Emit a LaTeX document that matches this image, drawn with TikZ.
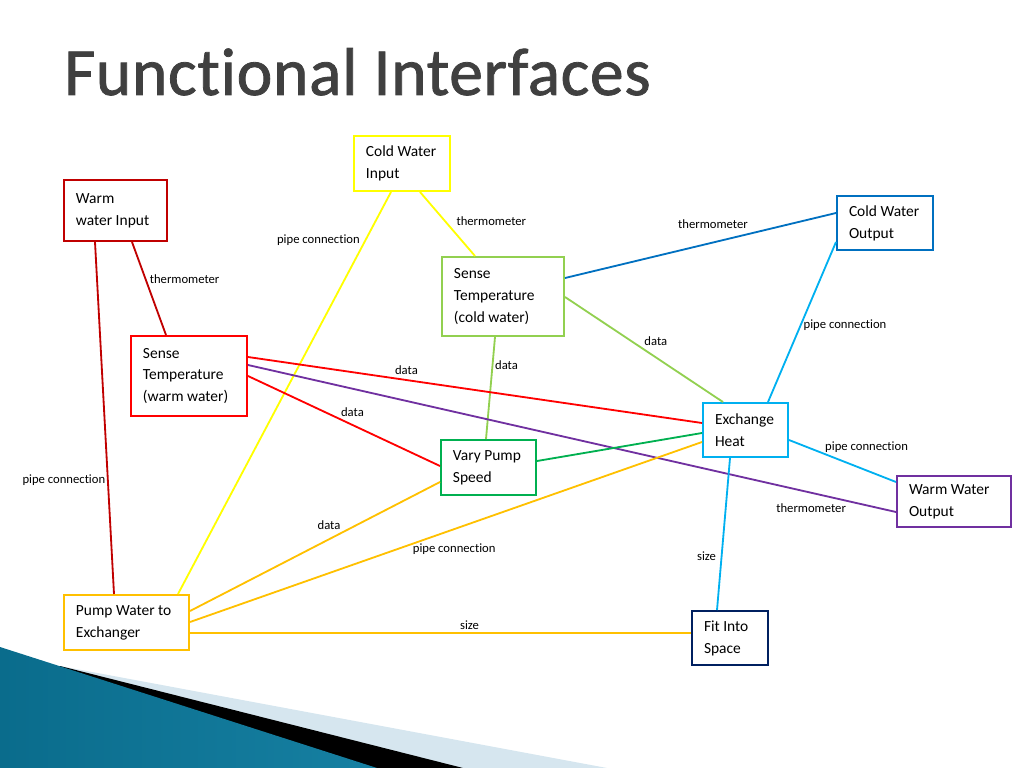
\documentclass[tikz,border=0pt]{standalone}
\usepackage{fontspec}
\setmainfont{Carlito}[Ligatures=NoCommon]
\usetikzlibrary{positioning,calc}
\definecolor{TitleGray}{RGB}{64,64,64}
\definecolor{WarmRed}{RGB}{192,0,0}
\definecolor{SenseRed}{RGB}{255,0,0}
\definecolor{InputYellow}{RGB}{255,255,0}
\definecolor{SenseGreen}{RGB}{146,208,80}
\definecolor{OutputBlue}{RGB}{0,112,192}
\definecolor{HeatBlue}{RGB}{0,176,240}
\definecolor{PumpGreen}{RGB}{0,176,80}
\definecolor{OutputPurple}{RGB}{112,48,160}
\definecolor{PumpOrange}{RGB}{255,192,0}
\definecolor{SpaceNavy}{RGB}{0,32,96}
\definecolor{DecoDark}{RGB}{10,108,140}
\definecolor{DecoLight}{RGB}{72,180,216}
\definecolor{DecoEnd}{RGB}{22,128,162}
\definecolor{DecoPale}{RGB}{214,230,239}
\tikzset{
  fnbox/.style={draw,line width=1.4pt,fill=white,align=flush left,
    inner xsep=0.3cm,inner ysep=0pt,font=\fontsize{11}{15.6}\selectfont},
  link/.style={line width=1.3pt},
  lbl/.style={font=\fontsize{9}{10}\selectfont,inner sep=0pt,text=black},
  slidetitle/.style={font=\fontsize{48}{56}\selectfont\addfontfeatures{LetterSpace=1,FakeBold=1.2},
    text=TitleGray,inner sep=0pt}
}
\begin{document}
\begin{tikzpicture}[x=0.025cm,y=-0.025cm]
  \useasboundingbox (0,0) rectangle (1024,768);
  \node[slidetitle,anchor=base west] (ttl) at (64,95) {Functional Interfaces};

  \fill[DecoPale] (60,666) -- (607,768) -- (0,768) -- cycle;
  \fill[black] (60,666) -- (463,768) -- (0,768) -- cycle;
  \shade[left color=DecoDark,middle color=DecoLight,right color=DecoEnd]
    (0,647) -- (377,768) -- (0,768) -- cycle;

  \node[fnbox,draw=WarmRed,text width=1.975cm,minimum height=1.525cm] (wwi) at (115.5,210.5) {Warm\\water Input};
  \node[fnbox,draw=InputYellow,text width=1.8cm,minimum height=1.375cm] (cwi) at (402,163.5) {Cold Water\\Input};
  \node[fnbox,draw=OutputBlue,text width=1.8cm,minimum height=1.35cm] (cwo) at (885,223) {Cold Water\\Output};
  \node[fnbox,draw=SenseGreen,text width=2.45cm,minimum height=1.975cm] (stc) at (503,296.5) {Sense\\Temperature\\(cold water)};
  \node[fnbox,draw=SenseRed,text width=2.3cm,minimum height=2cm] (stw) at (189,376) {Sense\\Temperature\\(warm water)};
  \node[fnbox,draw=HeatBlue,text width=1.525cm,minimum height=1.35cm] (exh) at (745.5,430) {Exchange\\Heat};
  \node[fnbox,draw=PumpGreen,text width=1.775cm,minimum height=1.375cm] (vps) at (488.5,467.5) {Vary Pump\\Speed};
  \node[fnbox,draw=OutputPurple,text width=2.25cm,minimum height=1.275cm] (wwo) at (954,501.5) {Warm Water\\Output};
  \node[fnbox,draw=PumpOrange,text width=2.525cm,minimum height=1.375cm] (pwe) at (126.5,622.5) {Pump Water to\\Exchanger};
  \node[fnbox,draw=SpaceNavy,text width=1.3cm,minimum height=1.35cm] (fis) at (730,638) {Fit Into\\Space};

  \draw[link,WarmRed] (wwi.south -| 95,0) -- node[lbl,pos=0.678,shift={(-44,0)}] {pipe connection} (pwe.north -| 114,0);
  \draw[link,WarmRed] (wwi.south -| 132,0) -- node[lbl,pos=0.4,shift={(39,0)}] {thermometer} (stw.north -| 166,0);
  \draw[link,InputYellow] (cwi.south -| 391,0) -- node[lbl,pos=0.12,shift={(-47,0)}] {pipe connection} (pwe.north -| 178,0);
  \draw[link,InputYellow] (cwi.south -| 420,0) -- node[lbl,pos=0.46,shift={(46,0)}] {thermometer} (stc.north -| 475,0);
  \draw[link,OutputBlue] (stc.east |- 0,278) -- node[lbl,pos=0.546,shift={(0,-18.5)}] {thermometer} (cwo.west |- 0,213);
  \draw[link,SenseGreen] (stc.east |- 0,297) -- node[lbl,pos=0.575,shift={(0,-16)}] {data} (exh.north -| 723,0);
  \draw[link,SenseGreen] (stc.south -| 495,0) -- node[lbl,pos=0.28,shift={(14,0)}] {data} (vps.north -| 486,0);
  \draw[link,SenseRed] (stw.east |- 0,357) -- node[lbl,pos=0.349,shift={(0,-10)}] {data} (exh.west |- 0,423);
  \draw[link,SenseRed] (stw.east |- 0,376) -- node[lbl,pos=0.544,shift={(0,-13)}] {data} (vps.west |- 0,466);
  \draw[link,OutputPurple] (stw.east |- 0,365) -- node[lbl,pos=0.869,shift={(0,15)}] {thermometer} (wwo.west |- 0,512);
  \draw[link,HeatBlue] (exh.north -| 768,0) -- node[lbl,pos=0.478,shift={(44.5,0)}] {pipe connection} (cwo.west |- 0,242);
  \draw[link,HeatBlue] (exh.east |- 0,440) -- node[lbl,pos=0.725,shift={(0,-23)}] {pipe connection} (wwo.west |- 0,482);
  \draw[link,HeatBlue] (exh.south -| 730,0) -- node[lbl,pos=0.649,shift={(-15,0)}] {size} (fis.north -| 717,0);
  \draw[link,PumpGreen] (vps.east |- 0,461) -- (exh.west |- 0,433);
  \draw[link,PumpOrange] (pwe.east |- 0,611) -- node[lbl,pos=0.556,shift={(0,-14)}] {data} (vps.west |- 0,482);
  \draw[link,PumpOrange] (pwe.east |- 0,622) -- node[lbl,pos=0.516,shift={(0,20)}] {pipe connection} (exh.west |- 0,442);
  \draw[link,PumpOrange] (pwe.east |- 0,633) -- node[lbl,pos=0.558,shift={(0,-8)}] {size} (fis.west |- 0,633);
\end{tikzpicture}
\end{document}
